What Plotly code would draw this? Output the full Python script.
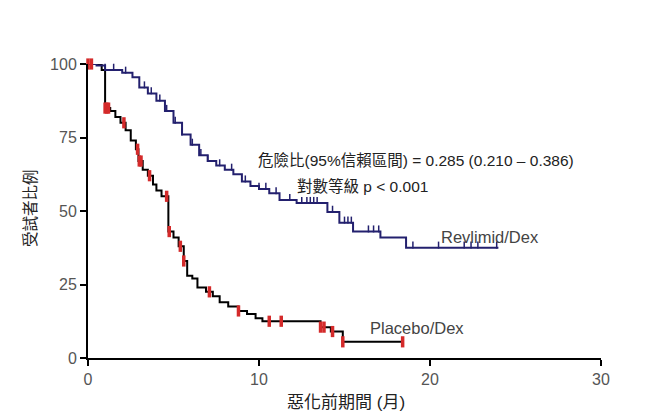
import plotly.graph_objects as go
import numpy as np

# Revlimid/Dex Kaplan-Meier steps (months, % of subjects)
blue_t = [0, 0.5, 1.0, 2.0, 2.6, 3.0, 3.5, 4.0, 4.5, 5.0, 5.5, 6.0, 6.5, 7.0, 7.5, 8.0, 8.5, 9.0, 9.5, 10.0,
          10.6, 11.2, 12.2, 14.0, 14.7, 15.5, 17.1, 18.6, 24.0]
blue_s = [100, 99.5, 98, 97, 95.5, 92, 90, 87.5, 84, 80, 76, 72.5, 69, 67, 65.5, 64, 62.5, 60, 58.5, 57.5,
          56, 53.7, 52.7, 49.7, 46, 43, 41, 37.5, 37.5]
blue_cens = [0.5, 1.0, 1.5, 2.2, 3.3, 3.7, 4.2, 4.6, 5.1, 5.5, 6.1, 6.6, 7.0, 7.7, 8.4, 9.2, 10.0, 10.4, 11.0,
             11.8, 12.5, 12.8, 13.0, 13.2, 13.4, 14.3, 15.0, 15.2, 15.4, 16.4, 16.7, 17.0, 19.0, 20.5, 22.0,
             22.4, 22.8, 23.9]

# Placebo/Dex Kaplan-Meier steps
red_t = [0, 0.8, 1.0, 1.3, 1.6, 1.9, 2.2, 2.5, 2.8, 2.95, 3.2, 3.5, 3.8, 4.0, 4.3, 4.7, 5.0, 5.3, 5.6, 5.8,
         6.1, 6.4, 6.9, 7.3, 7.7, 8.2, 8.8, 9.3, 9.8, 10.2, 13.6, 14.2, 14.9, 18.4]
red_s = [100, 98, 85, 84, 82, 80, 77.5, 74, 71, 67, 64, 62, 59, 57, 55, 43, 41, 38, 33, 28,
         27, 24, 22.5, 21, 19, 17.5, 16, 15, 13.5, 12.5, 10.5, 9, 5.5, 5.5]
red_cens = [0.0, 0.2, 1.0, 1.1, 1.2, 2.1, 2.9, 3.0, 3.1, 3.6, 4.6, 4.75, 5.4, 5.6, 7.1, 8.8, 10.6, 11.3,
            13.6, 13.8, 14.3, 14.9, 18.4]

x_ticks = [0, 10, 20, 30]
y_ticks = [0, 25, 50, 75, 100]


def step_at(ts, ss, t):
    idx = np.searchsorted(ts, t, side="right") - 1
    return ss[max(idx, 0)]


FONT = "Liberation Sans, Arial, Noto Sans CJK TC, sans-serif"
BLUE = "#23206e"
RED = "#d42a2a"

fig = go.Figure()
fig.add_trace(go.Scatter(x=red_t, y=red_s, mode="lines", line=dict(color="black", width=2, shape="hv"),
                         showlegend=False, cliponaxis=False))
fig.add_trace(go.Scatter(x=blue_t, y=blue_s, mode="lines", line=dict(color=BLUE, width=2, shape="hv"),
                         showlegend=False, cliponaxis=False))
fig.add_trace(go.Scatter(x=blue_cens, y=[step_at(blue_t, blue_s, t) + 0.9 for t in blue_cens], mode="markers",
                         marker=dict(symbol="line-ns", size=5, line=dict(color=BLUE, width=1.5)),
                         showlegend=False, cliponaxis=False))
fig.add_trace(go.Scatter(x=red_cens, y=[step_at(red_t, red_s, t) for t in red_cens], mode="markers",
                         marker=dict(symbol="line-ns", size=8, line=dict(color=RED, width=3.5)),
                         showlegend=False, cliponaxis=False))

ann = [
    dict(x=9.8, y=67.3, text="危險比(95%信賴區間) = 0.285 (0.210 – 0.386)", xanchor="left", yanchor="middle",
         font=dict(size=15.5)),
    dict(x=12.1, y=58.5, text="對數等級 p < 0.001", xanchor="left", yanchor="middle", font=dict(size=15.5)),
    dict(x=20.5, y=41.2, text="Revlimid/Dex", xanchor="left", yanchor="middle", font=dict(size=16.5, color="#444")),
    dict(x=16.4, y=10.2, text="Placebo/Dex", xanchor="left", yanchor="middle", font=dict(size=16.5, color="#444")),
    dict(x=0.503, y=-0.153, xref="paper", yref="paper", text="惡化前期間 (月)", xanchor="center",
         yanchor="middle", font=dict(size=17)),
    dict(x=-0.113, y=0.51, xref="paper", yref="paper", text="受試者比例", textangle=-90, xanchor="center",
         yanchor="middle", font=dict(size=15.5)),
]
for a in ann:
    a.setdefault("xref", "x")
    a.setdefault("yref", "y")
    a["showarrow"] = False
    a["font"].setdefault("color", "#222")
    a["font"]["family"] = FONT

fig.update_layout(
    width=659, height=417, margin=dict(l=88, r=58, t=64, b=59),
    paper_bgcolor="white", plot_bgcolor="white",
    font=dict(family=FONT, color="#555", size=16),
    annotations=ann,
    xaxis=dict(range=[0, 30], tickvals=x_ticks, showgrid=False, zeroline=False, showline=True,
               linecolor="black", linewidth=2, ticks="outside", ticklen=6, tickwidth=2, tickcolor="black",
               tickfont=dict(size=16, color="#555")),
    yaxis=dict(range=[0, 100], tickvals=y_ticks, showgrid=False, zeroline=False, showline=True,
               linecolor="black", linewidth=2, ticks="outside", ticklen=6, tickwidth=2, tickcolor="black",
               tickfont=dict(size=16, color="#555")),
)
fig.write_html("out.html")
